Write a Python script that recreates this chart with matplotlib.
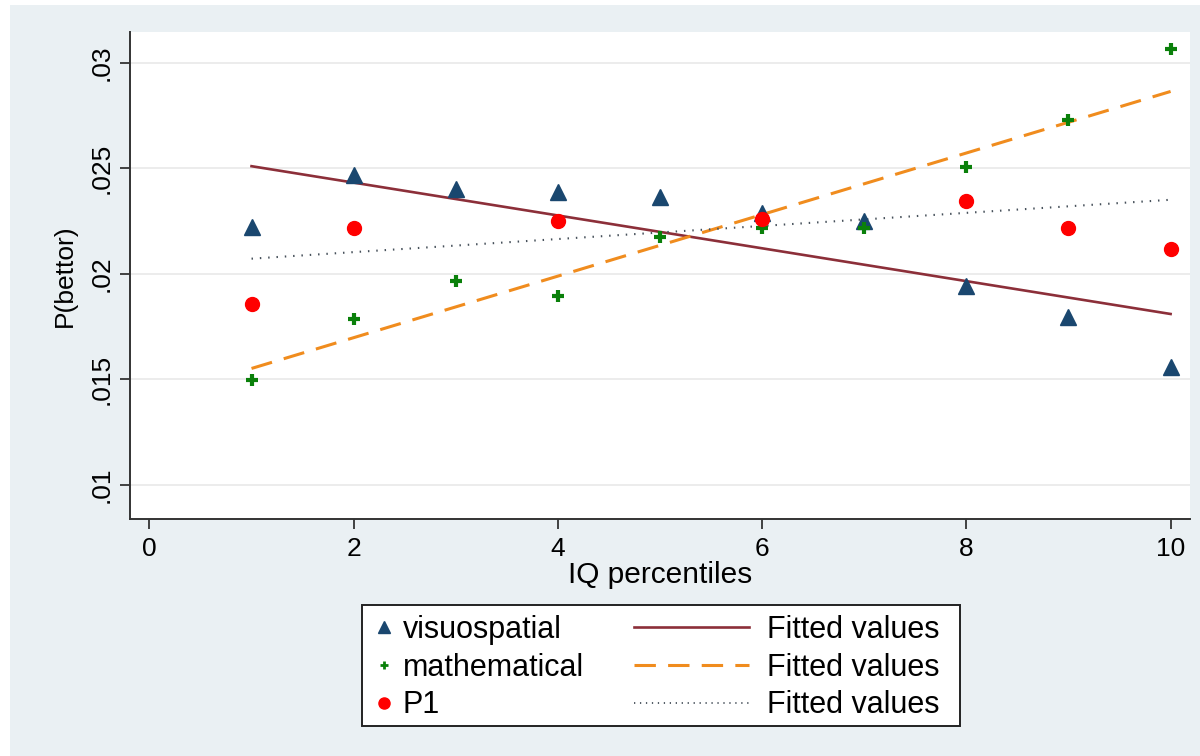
import numpy as np
import matplotlib
matplotlib.use("Agg")
import matplotlib.pyplot as plt
from matplotlib.patches import Rectangle
from matplotlib.lines import Line2D

plt.rcParams['font.family'] = ['Liberation Sans', 'DejaVu Sans']

# IQ percentile groups
pct = [1, 2, 3, 4, 5, 6, 7, 8, 9, 10]

# P(bettor) by group
visuospatial = [0.02222, 0.02468, 0.02403, 0.02390, 0.02366,
                0.02288, 0.02252, 0.01941, 0.01794, 0.01560]
mathematical = [0.01495, 0.01784, 0.01968, 0.01896, 0.02176,
                0.02217, 0.02217, 0.02508, 0.02729, 0.03066]
p1 = [0.01859, 0.02217, np.nan, 0.02250, np.nan,
      0.02261, np.nan, 0.02343, 0.02218, 0.02118]

# fitted lines (values at first / last percentile)
fit_x = [1, 10]
fit_visuo = [0.02510, 0.01810]
fit_math = [0.01552, 0.02864]
fit_p1 = [0.02072, 0.02351]

xticks = [0, 2, 4, 6, 8, 10]
yticks = [0.01, 0.015, 0.02, 0.025, 0.03]
ytick_labels = ['.01', '.015', '.02', '.025', '.03']

navy = '#1a476f'
maroon = '#8c2f39'
orange = '#f08c1e'
green = '#0a800a'
red = '#ff0000'
dotgray = '#46505a'
bg = '#eaf0f3'

fig = plt.figure(figsize=(12, 7.56), dpi=100)
fig.patch.set_facecolor('white')
fig.patches.append(Rectangle((10 / 1200, 0), 1, 1 - 5 / 756, transform=fig.transFigure,
                             facecolor=bg, edgecolor='none', zorder=-10))

ax = fig.add_axes([130 / 1200, 1 - 519 / 756, 1060 / 1200, (519 - 31.7) / 756])
ax.set_facecolor('white')

ax.plot(fit_x, fit_visuo, color=maroon, lw=1.9, zorder=3)
ax.plot(fit_x, fit_math, color=orange, lw=2.2, dashes=(7, 4), zorder=3)
ax.plot(fit_x, fit_p1, color=dotgray, lw=1.5, dashes=(0.7, 3.3), zorder=3)

ax.plot(pct, visuospatial, ls='none', marker='^', ms=12, color=navy, zorder=4)
ax.plot(pct, mathematical, ls='none', marker='+', ms=9, mew=3, color=green, zorder=4)
ax.plot(pct, p1, ls='none', marker='o', ms=10, color=red, zorder=5)

ax.set_xlim(-0.19, 10.19)
ax.set_ylim(0.00839, 0.03147)
ax.set_xticks(xticks)
ax.set_xticklabels([str(v) for v in xticks])
ax.set_yticks(yticks)
ax.set_yticklabels(ytick_labels, rotation=90, va='center')
ax.tick_params(axis='both', length=7, width=1.3, color='#333333', labelsize=19)
ax.tick_params(axis='x', pad=6)
ax.tick_params(axis='y', pad=5)
ax.yaxis.grid(True, color='#ebebeb', lw=1.3)
ax.set_axisbelow(True)
for s in ['top', 'right']:
    ax.spines[s].set_visible(False)
for s in ['left', 'bottom']:
    ax.spines[s].set_color('#333333')
    ax.spines[s].set_linewidth(1.4)

ax.set_xlabel('IQ percentiles', fontsize=21.5, labelpad=0)
ax.set_ylabel('P(bettor)', fontsize=19, labelpad=9)

# legend box drawn by hand, two legends inside
fig.patches.append(Rectangle((362 / 1200, 1 - 726 / 756), 598 / 1200, 121 / 756,
                             transform=fig.transFigure, facecolor='white',
                             edgecolor='#222222', lw=1.4, zorder=5))

mk_handles = [Line2D([], [], ls='none', marker='^', ms=9, color=navy),
              Line2D([], [], ls='none', marker='+', ms=6, mew=2, color=green),
              Line2D([], [], ls='none', marker='o', ms=8, color=red)]
mk_labels = ['visuospatial', 'mathematical', 'P1']
ln_handles = [Line2D([], [], color=maroon, lw=1.9),
              Line2D([], [], color=orange, lw=2.2, dashes=(7, 4)),
              Line2D([], [], color=dotgray, lw=1.3, dashes=(0.7, 2.6))]
ln_labels = ['Fitted values'] * 3

leg1 = fig.legend(mk_handles, mk_labels, loc='upper left',
                  bbox_to_anchor=(372 / 1200, 1 - 615 / 756), frameon=False,
                  fontsize=22, handlelength=0.8, handletextpad=0.2,
                  labelspacing=0.25, borderpad=0, borderaxespad=0)
leg2 = fig.legend(ln_handles, ln_labels, loc='upper left',
                  bbox_to_anchor=(634 / 1200, 1 - 615 / 756), frameon=False,
                  fontsize=22, handlelength=3.75, handletextpad=0.6,
                  labelspacing=0.25, borderpad=0, borderaxespad=0)
leg1.set_zorder(6)
leg2.set_zorder(6)

fig.savefig('out.png', dpi=100)
